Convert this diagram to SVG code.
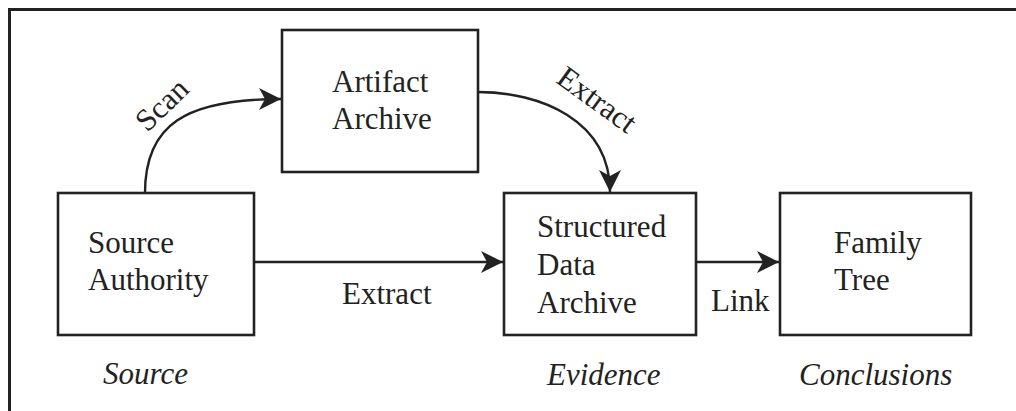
<svg xmlns="http://www.w3.org/2000/svg" width="1016" height="411" viewBox="0 0 1016 411">
<style>
.box{fill:#fff;stroke:#222;stroke-width:2.6}
.t{font-family:"Liberation Serif","Times New Roman",serif;font-size:31px;fill:#222}
.i{font-style:italic}
.c{fill:none;stroke:#222;stroke-width:2.4}
</style>
<defs>
<marker id="ah" markerUnits="userSpaceOnUse" markerWidth="24" markerHeight="24" refX="22" refY="11" orient="auto">
<path d="M0,0 L22,11 L0,22 L6,11 z" fill="#222"/>
</marker>
</defs>
<rect width="1016" height="411" fill="#fff"/>
<path d="M9.5,411 V9.5 H1016" fill="none" stroke="#222" stroke-width="3"/>
<g id="connectors">
<path class="c" d="M145,193 C145,125 185,99 281,99" marker-end="url(#ah)"/>
<path class="c" d="M478,92 C540,92 610,120 610,192" marker-end="url(#ah)"/>
<path class="c" d="M254,262 H503" marker-end="url(#ah)"/>
<path class="c" d="M696,262 H779" marker-end="url(#ah)"/>
<text class="t" transform="translate(169,112) rotate(-44)" text-anchor="middle">Scan</text>
<text class="t" transform="translate(591,108) rotate(36)" text-anchor="middle">Extract</text>
<text class="t" x="342" y="304">Extract</text>
<text class="t" x="711" y="311">Link</text>
</g>
<g id="artifact">
<rect class="box" x="282" y="30" width="196" height="142"/>
<text class="t" x="332" y="92">Artifact</text>
<text class="t" x="332" y="129">Archive</text>
</g>
<g id="source">
<rect class="box" x="58" y="193" width="196" height="142"/>
<text class="t" x="88" y="253">Source</text>
<text class="t" x="88" y="290">Authority</text>
</g>
<g id="structured">
<rect class="box" x="504" y="193" width="192" height="142"/>
<text class="t" x="537" y="237">Structured</text>
<text class="t" x="537" y="275">Data</text>
<text class="t" x="537" y="313">Archive</text>
</g>
<g id="family">
<rect class="box" x="780" y="193" width="191" height="142"/>
<text class="t" x="834" y="253">Family</text>
<text class="t" x="834" y="290">Tree</text>
</g>
<g id="categories">
<text class="t i" x="103" y="384">Source</text>
<text class="t i" x="547" y="385">Evidence</text>
<text class="t i" x="799" y="385">Conclusions</text>
</g>
</svg>
